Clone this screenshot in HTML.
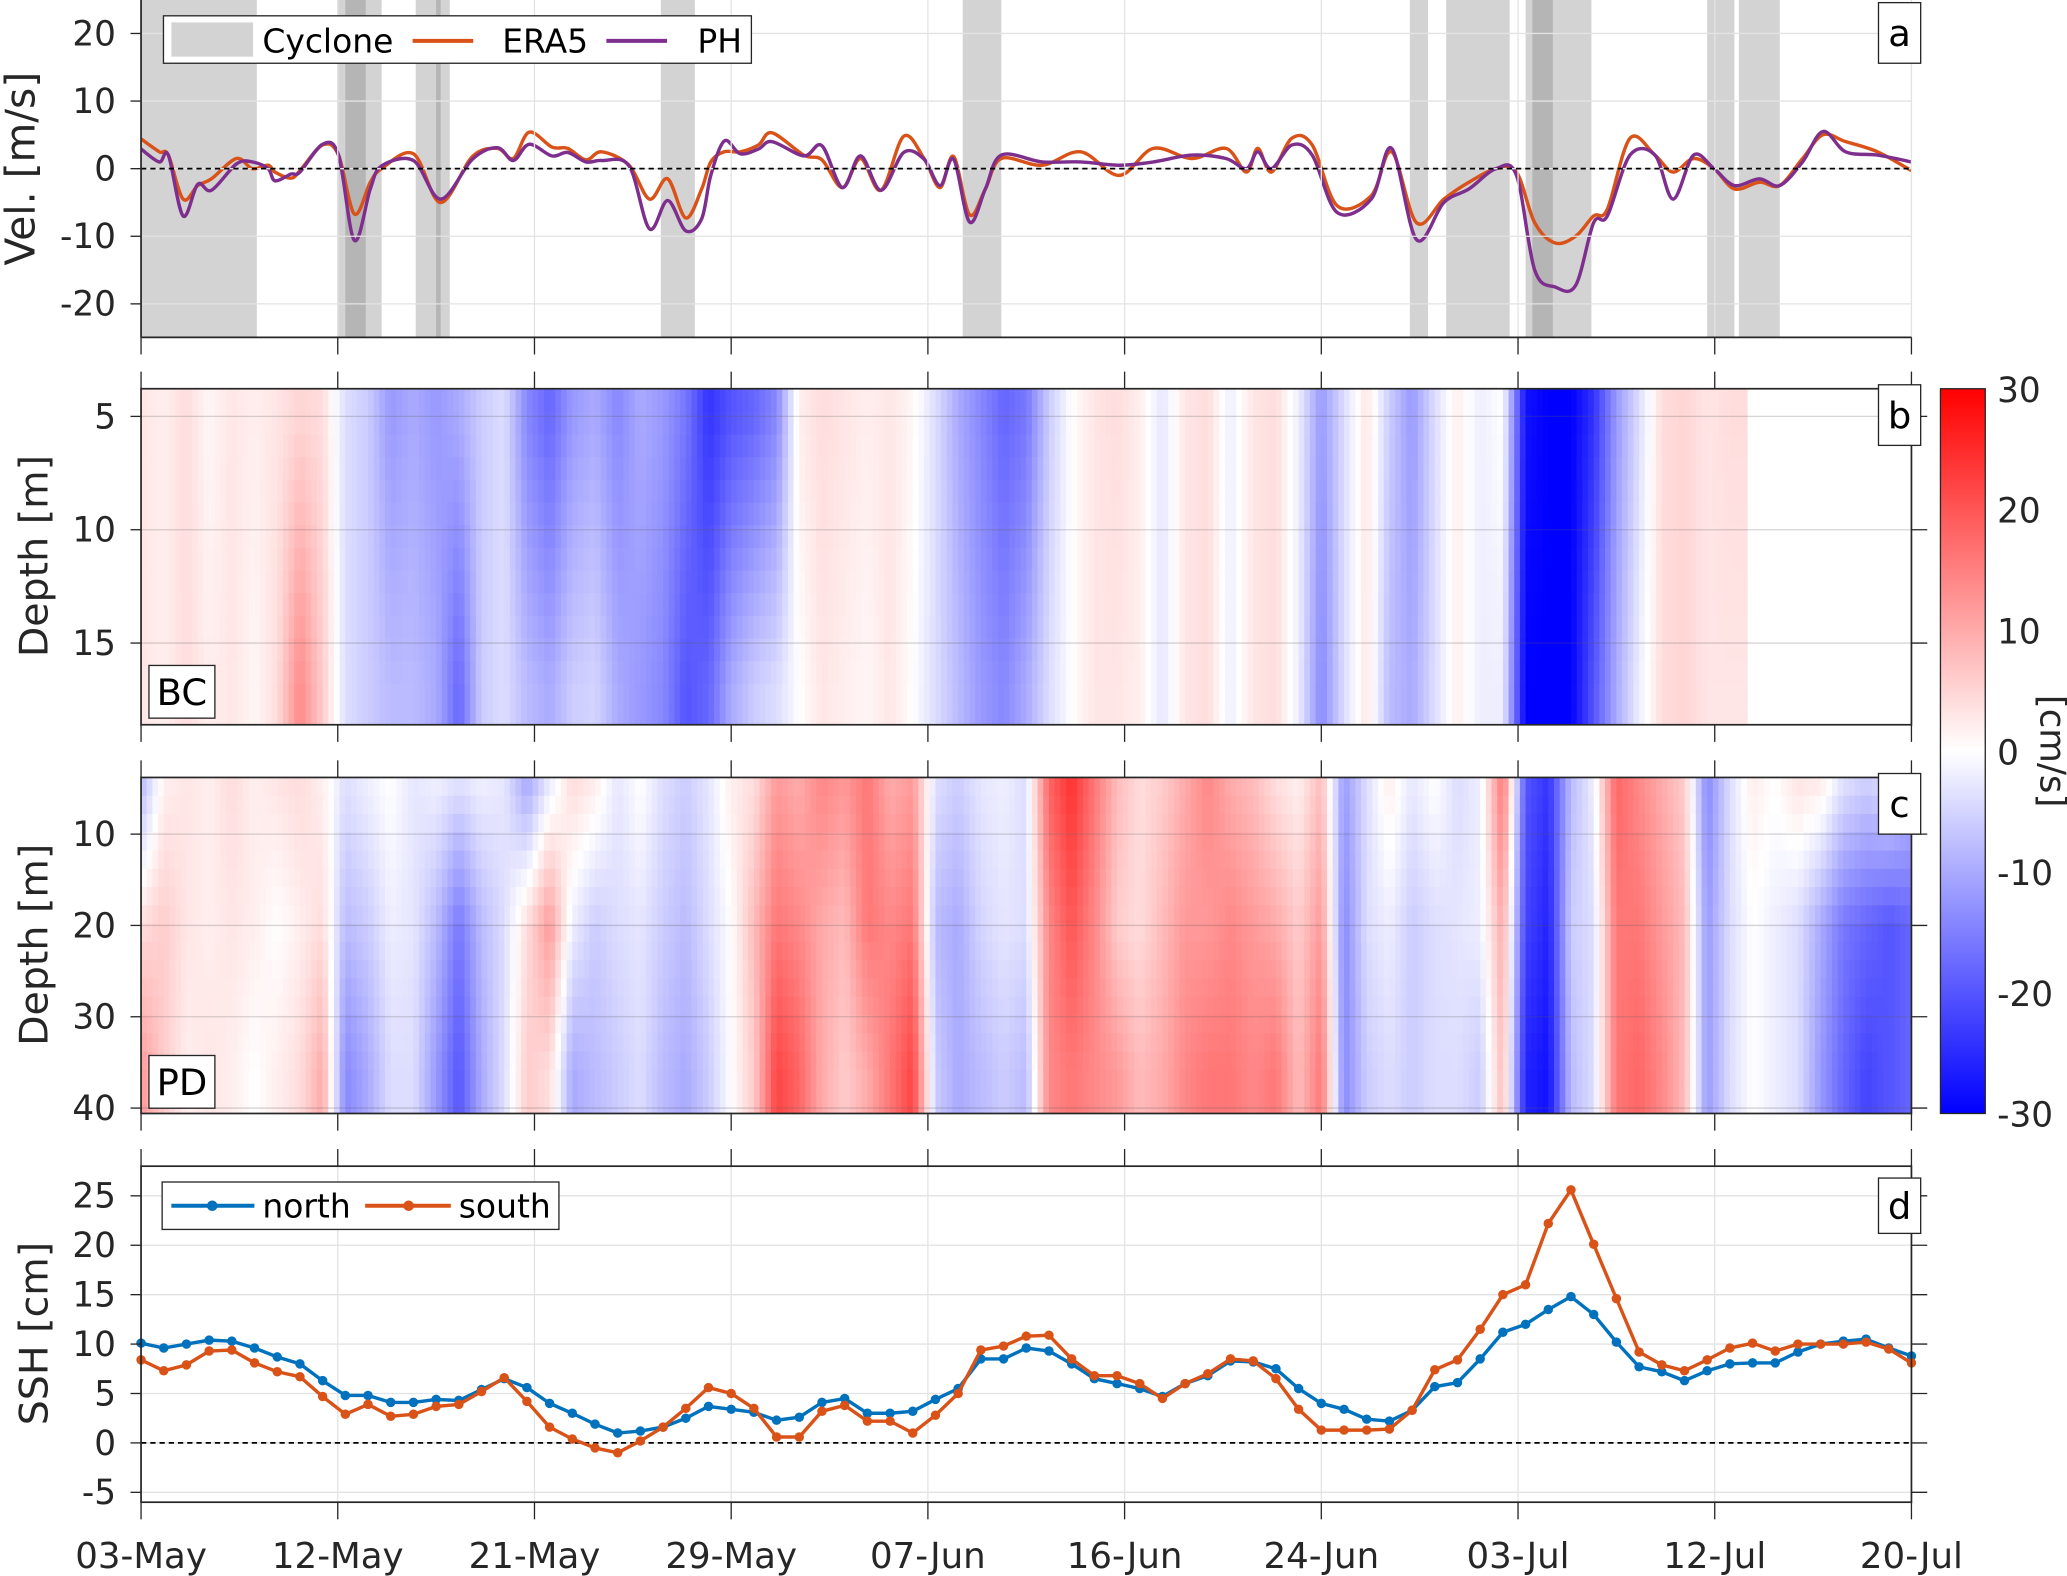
<!DOCTYPE html>
<html><head><meta charset="utf-8">
<style>
html,body{margin:0;padding:0;background:#fff;}
svg{display:block;font-family:"DejaVu Sans","Liberation Sans",sans-serif;}
</style></head>
<body>
<svg id="fig" xmlns="http://www.w3.org/2000/svg" width="2067" height="1576" viewBox="0 0 1568 1196" preserveAspectRatio="none">
<defs>
<linearGradient id="cbg" x1="0" y1="0" x2="0" y2="1">
<stop offset="0" stop-color="#ff0000"/><stop offset="0.5" stop-color="#ffffff"/><stop offset="1" stop-color="#0000ff"/>
</linearGradient>
<clipPath id="clipA"><rect x="107" y="0" width="1343" height="256"/></clipPath>
<clipPath id="clipB"><rect x="107" y="295" width="1343" height="255"/></clipPath>
<clipPath id="clipC"><rect x="107" y="590" width="1343" height="255"/></clipPath>
</defs>
<g id="root"></g>
</svg>
<script>
// ---------- data ----------
const xTickLabels = ['03-May','12-May','21-May','29-May','07-Jun','16-Jun','24-Jun','03-Jul','12-Jul','20-Jul'];
const velTicks = [20,10,0,-10,-20];
const bcTicks = [5,10,15];
const pdTicks = [10,20,30,40];
const sshTicks = [25,20,15,10,5,0,-5];
const cbTicks = [30,20,10,0,-10,-20,-30];
// cyclone periods (days since 03-May)
const cycStart = [0,8.65,9.0,12.1,13.0,22.9,36.2,55.9,57.5,61.0,61.3,69.0,70.4];
const cycEnd   = [5.1,10.6,9.9,13.6,13.2,24.4,37.9,56.7,60.3,63.9,62.2,70.2,72.2];
// wind velocity series
const tA  = [0,0.8,1.2,1.85,2.5,3.1,4.2,4.9,5.6,5.9,6.6,7,8,8.7,9.4,10.1,10.6,12,13.2,14.6,15.7,16.4,17.1,18.1,18.8,19.6,20.3,21.5,22.4,23.2,24,24.7,25.1,25.7,26.4,27.2,27.8,29.2,30,30.9,31.7,32.6,33.6,34.5,35.2,35.8,36.5,37.2,37.9,39.7,41.4,43.1,44.6,46.3,47.8,48.7,49.2,49.8,50.7,51.6,52.7,54.2,55.1,56.2,57.4,58.5,59.7,60.6,61.4,62.3,63.2,64,64.6,65.6,66.7,67.5,68.4,69.3,70.2,71.3,72.2,73.2,74.1,75.1,76.5,78];
const era = [4.4,2.5,2,-4.5,-2.5,-1.5,1.5,0,0.5,-0.5,-1.4,-0.3,3.5,2,-6.7,-2,0,2.2,-5,1.8,3,1.5,5.4,3.2,3,1.3,2.5,0.5,-4.5,-1.5,-7.3,-3,1,2.5,2.5,3.5,5.3,2,1.3,-2.8,1.5,-3.2,4.8,1.5,-2.8,1.8,-6.8,-3,1.5,0.5,2.5,-1,3,1.5,3,-0.5,3,-0.5,4.5,3.5,-5.5,-4,2.5,-8,-4.5,-2,0,-0.5,-8,-11,-10,-7,-6,4.5,2,-0.5,1.5,0,-3,-2,-2.5,1.5,5,4,2.5,-0.3];
const ph  = [2.9,1,2,-7,-2.3,-3.2,0.7,1,0,-1.8,-0.8,-0.5,3.6,2,-10.6,-3,0.4,1.2,-4.5,1.4,3.1,1.2,3.6,1.9,2.4,1,1.2,0.4,-8.9,-4.7,-9.2,-7.4,-1,4.1,2.2,2.9,4,1.9,3.4,-2.8,1.9,-3.2,2.4,1.4,-2.5,1.4,-7.9,-3,2,1,1,0.5,1,2,1.5,0,2.5,0,3.5,2,-6.5,-4.5,3,-10.5,-5,-3,0,-1,-15,-17.5,-17.3,-8,-7,2,2,-4.5,2,0,-2.5,-1.5,-2.5,1,5.5,2.5,2,1];
// BC velocity (cm/s), daily, at 5 m and 17 m
const bcTop = [3,2,4,1,3,2,3,5,4,-4,-6,-12,-10,-12,-10,-6,-4,-14,-18,-12,-10,-14,-10,-12,-16,-24,-20,-18,-14,2,4,3,2,3,1,-4,-10,-14,-18,-16,-6,0,3,4,2,-3,3,4,-2,3,4,-2,-12,-4,3,-6,-12,-4,2,-2,0,-28,-30,-30,-24,-12,-4,4,5,3,4];
const bcBot = [3,2,4,2,3,1,4,14,6,-4,-6,-8,-8,-10,-18,-6,-4,-8,-10,-6,-5,-10,-12,-14,-20,-18,-10,-6,-4,0,3,2,1,3,0,-4,-8,-12,-14,-10,-4,0,3,3,2,-3,3,4,-2,3,4,-2,-14,-4,3,-8,-10,-4,2,-2,-2,-30,-30,-30,-20,-10,-2,4,5,3,3];
// PD velocity (cm/s), daily, at 5 m, 20 m, 36 m
const pdTop = [-8,2,3,2,4,2,3,4,2,-4,-2,0,-3,-2,-4,-2,-3,-10,-2,4,2,-3,0,-4,-6,-3,2,4,12,10,14,12,16,10,12,-4,-6,-3,-2,-4,18,24,16,8,4,6,10,14,10,8,4,2,8,-12,-4,2,-3,0,-4,-2,16,-20,-24,-8,-2,18,14,10,6,-14,-4,2,0,3,2,-4,-6,-4,-8];
const pdMid = [4,6,3,2,3,2,0,2,4,-8,-6,-2,-3,-8,-16,-8,-4,4,12,-2,-6,-4,-3,-6,-8,-4,0,8,16,14,10,8,16,14,16,-8,-10,-5,-3,-4,14,20,14,6,4,8,12,12,14,12,10,6,12,-14,-4,-2,-6,-4,-3,-2,10,-22,-26,-6,-4,16,16,12,8,-12,-4,0,-2,-4,-10,-16,-18,-20,-18];
const pdBot = [12,6,2,3,2,0,2,4,10,-14,-10,-4,-4,-12,-20,-10,-4,6,4,-10,-8,-6,-4,-8,-10,-6,0,6,22,18,10,6,10,16,22,-6,-10,-8,-6,-8,14,16,14,12,8,10,14,16,16,14,16,8,16,-14,-6,-4,-6,-4,-4,-6,8,-26,-28,-8,-4,16,18,14,8,-12,-4,0,-2,-4,-12,-18,-22,-20,-18];
// SSH (cm), daily
const sshNorth = [10.1,9.6,10,10.4,10.3,9.6,8.7,8,6.3,4.8,4.8,4.1,4.1,4.4,4.3,5.4,6.5,5.6,4,3,1.9,1,1.2,1.6,2.5,3.7,3.4,3.1,2.3,2.6,4.1,4.5,3,3,3.2,4.4,5.5,8.5,8.5,9.6,9.3,8,6.5,6,5.5,4.7,6,6.8,8.3,8.2,7.5,5.5,4,3.4,2.4,2.2,3.3,5.7,6.1,8.5,11.2,12,13.5,14.8,13,10.2,7.7,7.2,6.3,7.3,8,8.1,8.1,9.2,10,10.3,10.5,9.6,8.8];
const sshSouth = [8.4,7.3,7.9,9.3,9.4,8.1,7.2,6.7,4.7,2.9,3.9,2.7,2.9,3.7,3.9,5.2,6.6,4.2,1.6,0.4,-0.5,-1,0.2,1.6,3.5,5.6,5,3.5,0.6,0.6,3.2,3.8,2.2,2.2,1,2.8,5,9.4,9.8,10.8,10.9,8.5,6.8,6.8,6,4.5,6,7,8.5,8.3,6.5,3.4,1.3,1.3,1.3,1.4,3.3,7.4,8.4,11.5,15,16,22.2,25.6,20.1,14.6,9.2,7.9,7.3,8.4,9.6,10.1,9.3,10,10,10,10.2,9.5,8.1];

// ---------- scales ----------
const X0 = 107, X1 = 1450, NDAYS = 78;
const xS = d => X0 + d * (X1 - X0) / NDAYS;
const yA = v => 128 - v * 5.13;
const yB = z => 316 + (z - 5) * 17.2;
const yC = z => 633 + (z - 10) * 6.93;
const yD = v => 1095 - v * 7.5;
const NS = 'http://www.w3.org/2000/svg';
const root = document.getElementById('root');
function el(tag, attrs, parent, text) {
  const e = document.createElementNS(NS, tag);
  for (const k in attrs) e.setAttribute(k, attrs[k]);
  if (text !== undefined) e.textContent = text;
  (parent || root).appendChild(e);
  return e;
}
function grp(parent) { const g = document.createElementNS(NS, 'g'); (parent || root).appendChild(g); return g; }
function colorOf(v) {
  let t = Math.max(-1, Math.min(1, v / 30));
  if (t >= 0) { const c = Math.round(255 * (1 - t)); return 'rgb(255,' + c + ',' + c + ')'; }
  const c = Math.round(255 * (1 + t)); return 'rgb(' + c + ',' + c + ',255)';
}
function interpArr(arr, d) {
  const i = Math.floor(d), f = d - i;
  const a = arr[Math.min(i, arr.length - 1)], b = arr[Math.min(i + 1, arr.length - 1)];
  return a + (b - a) * f;
}
const tickDays = xTickLabels.map((_, i) => i * NDAYS / (xTickLabels.length - 1));

// ---------- panel a ----------
const gA = grp();


const gAc = grp(gA); gAc.setAttribute('clip-path', 'url(#clipA)');
for (let i = 0; i < cycStart.length; i++) {
  const r = el('rect', {x: xS(cycStart[i]), y: 0, width: xS(cycEnd[i]) - xS(cycStart[i]), height: 256, fill: 'rgba(120,120,120,0.33)'}, gAc);
  
  
}
tickDays.forEach(d => el('line', {x1: xS(d), x2: xS(d), y1: 0, y2: 256, stroke: '#e3e3e3', 'stroke-width': 1}, gA));
velTicks.forEach(v => el('line', {x1: X0, x2: X1, y1: yA(v), y2: yA(v), stroke: '#e3e3e3', 'stroke-width': 1}, gA));
el('line', {x1: X0, x2: X1, y1: yA(0), y2: yA(0), stroke: '#000', 'stroke-width': 1.3, 'stroke-dasharray': '4,3'}, gA);
function smoothPath(xs, ys) {
  let d = 'M' + xs[0].toFixed(1) + ',' + ys[0].toFixed(1);
  for (let i = 0; i < xs.length - 1; i++) {
    const x0 = xs[Math.max(0, i - 1)], y0 = ys[Math.max(0, i - 1)];
    const x1 = xs[i], y1 = ys[i], x2 = xs[i + 1], y2 = ys[i + 1];
    const x3 = xs[Math.min(xs.length - 1, i + 2)], y3 = ys[Math.min(xs.length - 1, i + 2)];
    const c1x = x1 + (x2 - x0) / 6, c1y = y1 + (y2 - y0) / 6;
    const c2x = x2 - (x3 - x1) / 6, c2y = y2 - (y3 - y1) / 6;
    d += ' C' + c1x.toFixed(1) + ',' + c1y.toFixed(1) + ' ' + c2x.toFixed(1) + ',' + c2y.toFixed(1) + ' ' + x2.toFixed(1) + ',' + y2.toFixed(1);
  }
  return d;
}
const xsA = tA.map(xS);
const eraLine = el('path', {d: smoothPath(xsA, era.map(yA)), fill: 'none', stroke: '#D95319', 'stroke-width': 2.6}, gAc);


const phLine = el('path', {d: smoothPath(xsA, ph.map(yA)), fill: 'none', stroke: '#7E2F8E', 'stroke-width': 2.6}, gAc);


el('line', {x1: X0, x2: X0, y1: 0, y2: 256, stroke: '#262626', 'stroke-width': 1.3}, gA);
el('line', {x1: X0, x2: X1, y1: 256, y2: 256, stroke: '#262626', 'stroke-width': 1.3}, gA);
velTicks.forEach(v => {
  el('line', {x1: X0, x2: X0 - 8, y1: yA(v), y2: yA(v), stroke: '#262626', 'stroke-width': 1}, gA);
  const t = el('text', {x: 88, y: yA(v) + 9, 'text-anchor': 'end', 'font-size': 26, fill: '#262626'}, gA, String(v));
  
  
});
const tAy = el('text', {x: 0, y: 0, transform: 'translate(26,128) rotate(-90)', 'text-anchor': 'middle', 'font-size': 31, fill: '#262626'}, gA, 'Vel. [m/s]');


// legend a
const legA = grp(gA);


el('rect', {x: 124, y: 12, width: 446, height: 36, fill: '#fff', stroke: '#262626', 'stroke-width': 1}, legA);
el('rect', {x: 130, y: 17, width: 62, height: 26, fill: '#d3d3d3'}, legA);
el('text', {x: 199, y: 40, 'font-size': 25, fill: '#000'}, legA, 'Cyclone');
el('line', {x1: 313, x2: 359, y1: 31, y2: 31, stroke: '#D95319', 'stroke-width': 3}, legA);
el('text', {x: 381, y: 40, 'font-size': 25, fill: '#000'}, legA, 'ERA5');
el('line', {x1: 460, x2: 506, y1: 31, y2: 31, stroke: '#7E2F8E', 'stroke-width': 3}, legA);
el('text', {x: 529, y: 40, 'font-size': 25, fill: '#000'}, legA, 'PH');

function panelLabel(x, y, txt, name, w, h) {
  const g = grp();
  
  
  el('rect', {x: x, y: y, width: w || 32, height: h || 46, fill: '#fff', stroke: '#262626', 'stroke-width': 1}, g);
  el('text', {x: x + (w || 32) / 2, y: y + (h || 46) / 2 + 10, 'text-anchor': 'middle', 'font-size': 28, fill: '#000'}, g, txt);
}

// ---------- x tick marks between panels ----------
const gT = grp();


tickDays.forEach(d => {
  [[256, 269], [282, 295], [550, 563], [577, 590], [845, 858], [872, 885], [1140, 1153]].forEach(p =>
    el('line', {x1: xS(d), x2: xS(d), y1: p[0], y2: p[1], stroke: '#262626', 'stroke-width': 1}, gT));
});

// ---------- heatmap helper ----------
function heatmap(g, nDays, valFn, zTop, zBot, yFn, dz) {
  const step = 0.25;
  for (let d = 0; d < nDays; d += step) {
    for (let z = zTop; z < zBot; z += dz) {
      const v = valFn(d + step / 2, z + dz / 2);
      el('rect', {x: xS(d).toFixed(2), y: yFn(z).toFixed(2), width: (xS(step) - X0 + 0.6).toFixed(2), height: (yFn(z + dz) - yFn(z) + 0.6).toFixed(2), fill: colorOf(v)}, g);
    }
  }
}

// ---------- panel b (BC) ----------
const gB = grp();


const gBh = grp(gB); gBh.setAttribute('clip-path', 'url(#clipB)');
heatmap(gBh, bcTop.length - 0.3, (d, z) => {
  const a = interpArr(bcTop, d), b = interpArr(bcBot, d);
  const f = Math.max(0, Math.min(1, (z - 5) / 12));
  return a + (b - a) * f;
}, 3.8, 18.6, yB, 1);
bcTicks.forEach(z => {
  el('line', {x1: X0, x2: X1, y1: yB(z), y2: yB(z), stroke: 'rgba(90,90,90,0.25)', 'stroke-width': 1}, gB);
  el('line', {x1: X0, x2: X0 - 8, y1: yB(z), y2: yB(z), stroke: '#262626'}, gB);
  el('line', {x1: X1, x2: X1 + 12, y1: yB(z), y2: yB(z), stroke: '#262626'}, gB);
  const t = el('text', {x: 88, y: yB(z) + 9, 'text-anchor': 'end', 'font-size': 26, fill: '#262626'}, gB, String(z));
  
  
});
el('rect', {x: X0, y: 295, width: X1 - X0, height: 255, fill: 'none', stroke: '#262626', 'stroke-width': 1.3}, gB);
const tBy = el('text', {x: 0, y: 0, transform: 'translate(36,422) rotate(-90)', 'text-anchor': 'middle', 'font-size': 30, fill: '#262626'}, gB, 'Depth [m]');



// ---------- panel c (PD) ----------
const gC = grp();


const gCh = grp(gC); gCh.setAttribute('clip-path', 'url(#clipC)');
heatmap(gCh, NDAYS, (d, z) => {
  const a = interpArr(pdTop, d), m = interpArr(pdMid, d), b = interpArr(pdBot, d);
  if (z <= 20) { const f = Math.max(0, (z - 5) / 15); return a + (m - a) * f; }
  const f = Math.min(1, (z - 20) / 16); return m + (b - m) * f;
}, 3.8, 40.7, yC, 2);
pdTicks.forEach(z => {
  el('line', {x1: X0, x2: X1, y1: yC(z), y2: yC(z), stroke: 'rgba(90,90,90,0.25)', 'stroke-width': 1}, gC);
  el('line', {x1: X0, x2: X0 - 8, y1: yC(z), y2: yC(z), stroke: '#262626'}, gC);
  el('line', {x1: X1, x2: X1 + 12, y1: yC(z), y2: yC(z), stroke: '#262626'}, gC);
  const t = el('text', {x: 88, y: yC(z) + 9, 'text-anchor': 'end', 'font-size': 26, fill: '#262626'}, gC, String(z));
  
  
});
el('rect', {x: X0, y: 590, width: X1 - X0, height: 255, fill: 'none', stroke: '#262626', 'stroke-width': 1.3}, gC);
const tCy = el('text', {x: 0, y: 0, transform: 'translate(36,717) rotate(-90)', 'text-anchor': 'middle', 'font-size': 30, fill: '#262626'}, gC, 'Depth [m]');



panelLabel(1425, 2, 'a', 'panel-label-a');
panelLabel(1425, 292, 'b', 'panel-label-b');
panelLabel(1425, 587, 'c', 'panel-label-c');
panelLabel(113, 505, 'BC', 'bc-label', 50, 40);
panelLabel(113, 801, 'PD', 'pd-label', 50, 40);

// ---------- colorbar ----------
const gCB = grp();


el('rect', {x: 1472, y: 295, width: 34, height: 550, fill: 'url(#cbg)', stroke: '#262626', 'stroke-width': 1}, gCB);
cbTicks.forEach(v => {
  const y = 570 - v * (275 / 30);
  const t = el('text', {x: 1515, y: y + 10, 'font-size': 26, fill: '#262626'}, gCB, String(v));
  
  
});
const cbt = el('text', {x: 0, y: 0, transform: 'translate(1548,570) rotate(90)', 'text-anchor': 'middle', 'font-size': 27, fill: '#262626'}, gCB, '[cm/s]');



// ---------- panel d (SSH) ----------
const gD = grp();


tickDays.forEach(d => el('line', {x1: xS(d), x2: xS(d), y1: 885, y2: 1140, stroke: '#e3e3e3'}, gD));
sshTicks.forEach(v => el('line', {x1: X0, x2: X1, y1: yD(v), y2: yD(v), stroke: '#e3e3e3'}, gD));
el('line', {x1: X0, x2: X1, y1: yD(0), y2: yD(0), stroke: '#000', 'stroke-width': 1.3, 'stroke-dasharray': '4,3'}, gD);
function series(vals, color, name) {
  const g = grp(gD);
  
  
  const pts = vals.map((v, i) => xS(i).toFixed(1) + ',' + yD(v).toFixed(1)).join(' ');
  el('polyline', {points: pts, fill: 'none', stroke: color, 'stroke-width': 2.6}, g);
  vals.forEach((v, i) => {
    const c = el('circle', {cx: xS(i), cy: yD(v), r: 3.6, fill: color}, g);
    
    
  });
}
series(sshNorth, '#0072BD', 'north-series');
series(sshSouth, '#D95319', 'south-series');
el('rect', {x: X0, y: 885, width: X1 - X0, height: 255, fill: 'none', stroke: '#262626', 'stroke-width': 1.3}, gD);
sshTicks.forEach(v => {
  el('line', {x1: X0, x2: X0 - 8, y1: yD(v), y2: yD(v), stroke: '#262626'}, gD);
  el('line', {x1: X1, x2: X1 + 12, y1: yD(v), y2: yD(v), stroke: '#262626'}, gD);
  const t = el('text', {x: 88, y: yD(v) + 9, 'text-anchor': 'end', 'font-size': 26, fill: '#262626'}, gD, String(v));
  
  
});
const tDy = el('text', {x: 0, y: 0, transform: 'translate(36,1012) rotate(-90)', 'text-anchor': 'middle', 'font-size': 30, fill: '#262626'}, gD, 'SSH [cm]');


const legD = grp(gD);


el('rect', {x: 123, y: 897, width: 301, height: 36, fill: '#fff', stroke: '#262626', 'stroke-width': 1}, legD);
el('line', {x1: 130, x2: 193, y1: 915, y2: 915, stroke: '#0072BD', 'stroke-width': 3}, legD);
el('circle', {cx: 161, cy: 915, r: 4, fill: '#0072BD'}, legD);
el('text', {x: 199, y: 924, 'font-size': 25, fill: '#000'}, legD, 'north');
el('line', {x1: 277, x2: 342, y1: 915, y2: 915, stroke: '#D95319', 'stroke-width': 3}, legD);
el('circle', {cx: 310, cy: 915, r: 4, fill: '#D95319'}, legD);
el('text', {x: 348, y: 924, 'font-size': 25, fill: '#000'}, legD, 'south');
panelLabel(1425, 894, 'd', 'panel-label-d', 32, 42);

// x tick labels
xTickLabels.forEach((lab, i) => {
  const t = el('text', {x: xS(tickDays[i]), y: 1190, 'text-anchor': 'middle', 'font-size': 27, fill: '#262626'}, root, lab);
  
  
});
</script>
</body></html>
